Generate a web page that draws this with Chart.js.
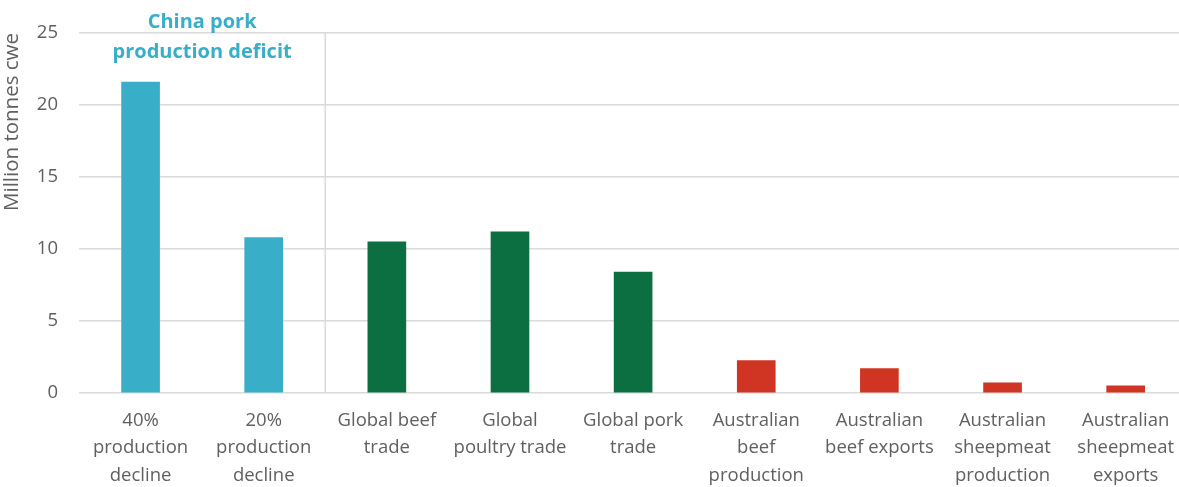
<!DOCTYPE html>
<html>
<head>
<meta charset="utf-8">
<script src="https://cdn.jsdelivr.net/npm/chart.js@4/dist/chart.umd.min.js"></script>
<style>
  html, body { margin: 0; padding: 0; background: #fff; overflow: hidden; }
  #wrap { width: 1188px; height: 487px; position: relative; }
</style>
</head>
<body>
<div id="wrap"><canvas id="chart"></canvas></div>
<script>
// Chart data
const categories = [
  ["40%", "production", "decline"],
  ["20%", "production", "decline"],
  ["Global beef", "trade"],
  ["Global", "poultry trade"],
  ["Global pork", "trade"],
  ["Australian", "beef", "production"],
  ["Australian", "beef exports"],
  ["Australian", "sheepmeat", "production"],
  ["Australian", "sheepmeat", "exports"]
];
const volumes = [21.6, 10.8, 10.5, 11.2, 8.4, 2.25, 1.7, 0.7, 0.5];
const groups = ["china", "china", "global", "global", "global", "aus", "aus", "aus", "aus"];
const yTicks = [0, 5, 10, 15, 20, 25];
const annotationLines = ["China pork", "production deficit"];

const groupColors = {
  china: "#38aec9",
  global: "#0b6f42",
  aus: "#cf3522"
};
const gridColor = "#dadada";
const textColor = "#606060";
const font = "'Open Sans', 'Noto Sans', sans-serif";

// separator line between China bars and the rest + label on top
const annotationPlugin = {
  id: "chinaAnnotation",
  beforeDatasetsDraw(chart) {
    const { ctx, scales: { x, y } } = chart;
    const sepX = (x.getPixelForValue(1) + x.getPixelForValue(2)) / 2;
    ctx.save();
    ctx.strokeStyle = gridColor;
    ctx.lineWidth = 1.5;
    ctx.beginPath();
    ctx.moveTo(sepX, y.getPixelForValue(25));
    ctx.lineTo(sepX, y.getPixelForValue(0));
    ctx.stroke();
    ctx.restore();
  },
  afterDraw(chart) {
    const { ctx, scales: { x } } = chart;
    const cx = (x.getPixelForValue(0) + x.getPixelForValue(1)) / 2;
    ctx.save();
    ctx.fillStyle = groupColors.china;
    ctx.font = "bold 20px " + font;
    ctx.textAlign = "center";
    ctx.textBaseline = "middle";
    annotationLines.forEach((line, i) => {
      ctx.fillText(line, cx, 22 + i * 30);
    });
    ctx.restore();
  }
};

const ctx = document.getElementById("chart").getContext("2d");
new Chart(ctx, {
  type: "bar",
  data: {
    labels: categories,
    datasets: [
      {
        data: volumes,
        backgroundColor: groups.map((g) => groupColors[g]),
        barThickness: 38
      }
    ]
  },
  options: {
    responsive: true,
    maintainAspectRatio: false,
    animation: false,
    layout: {
      padding: { top: 33, right: 0, bottom: 0, left: 0 }
    },
    plugins: {
      legend: { display: false },
      tooltip: { enabled: false }
    },
    scales: {
      x: {
        afterFit(scale) {
          scale.height = 94;
        },
        grid: { display: false, drawTicks: false },
        border: { display: false },
        ticks: {
          color: textColor,
          font: { family: font, size: 18.5, lineHeight: 1.48 },
          padding: 14,
          maxRotation: 0,
          autoSkip: false
        }
      },
      y: {
        min: 0,
        max: 25,
        afterFit(scale) {
          scale.width = 79;
        },
        afterBuildTicks(scale) {
          scale.ticks = yTicks.map((v) => ({ value: v }));
        },
        grid: { color: gridColor, lineWidth: 1.5, drawTicks: false },
        border: { display: false },
        ticks: {
          color: textColor,
          font: { family: font, size: 18.5 },
          padding: 21
        },
        title: {
          display: true,
          text: "Million tonnes cwe",
          align: "end",
          color: textColor,
          font: { family: font, size: 20.5 },
          padding: { top: 0, bottom: 0 }
        }
      }
    }
  },
  plugins: [annotationPlugin]
});
</script>
</body>
</html>
